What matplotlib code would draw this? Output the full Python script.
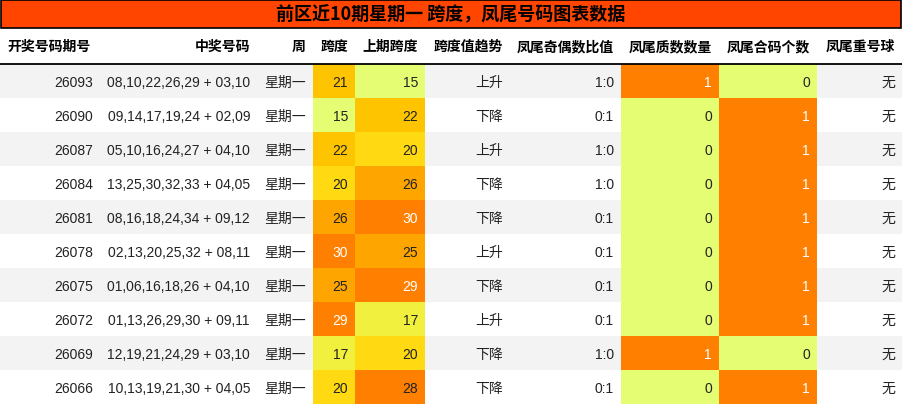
import matplotlib
matplotlib.use("Agg")
import matplotlib.pyplot as plt
from matplotlib.patches import Rectangle

plt.rcParams['font.family'] = ['Liberation Sans', 'Noto Sans CJK SC', 'DejaVu Sans']

title = "前区近10期星期一 跨度，凤尾号码图表数据"
headers = ["开奖号码期号", "中奖号码", "周", "跨度", "上期跨度", "跨度值趋势", "凤尾奇偶数比值", "凤尾质数数量", "凤尾合码个数", "凤尾重号球"]
issues = ["26093", "26090", "26087", "26084", "26081", "26078", "26075", "26072", "26069", "26066"]
numbers = ["08,10,22,26,29 + 03,10", "09,14,17,19,24 + 02,09", "05,10,16,24,27 + 04,10",
           "13,25,30,32,33 + 04,05", "08,16,18,24,34 + 09,12", "02,13,20,25,32 + 08,11",
           "01,06,16,18,26 + 04,10", "01,13,26,29,30 + 09,11", "12,19,21,24,29 + 03,10",
           "10,13,19,21,30 + 04,05"]
weekday = ["星期一"] * 10
span = [21, 15, 22, 20, 26, 30, 25, 29, 17, 20]
prev_span = [15, 22, 20, 26, 30, 25, 29, 17, 20, 28]
trend = ["上升", "下降", "上升", "下降", "下降", "上升", "下降", "上升", "下降", "下降"]
odd_even = ["1:0", "0:1", "1:0", "1:0", "0:1", "0:1", "0:1", "0:1", "1:0", "0:1"]
prime_cnt = [1, 0, 0, 0, 0, 0, 0, 0, 1, 0]
composite_cnt = [0, 1, 1, 1, 1, 1, 1, 1, 0, 1]
repeat = ["无"] * 10

def span_color(v):
    if v <= 15: return "#e4fd73"
    if v <= 17: return "#f2f03e"
    if v <= 20: return "#ffd912"
    if v <= 22: return "#ffc400"
    if v <= 26: return "#ffa500"
    return "#ff8000"

def bin_color(v):
    return "#ff8000" if v >= 1 else "#e4fd73"

W, H = 902, 406
fig = plt.figure(figsize=(W/100, H/100), dpi=100)
ax = fig.add_axes([0, 0, 1, 1])
ax.set_xlim(0, W); ax.set_ylim(H, 0); ax.axis('off')

edges = [0, 100, 257, 313, 355, 425, 510, 621, 719, 817, 902]
pad = 7
fs = 10

ax.add_patch(Rectangle((1, 1), W-2, 28, facecolor="#ff4500", edgecolor="black", lw=1.2))
ax.text(W/2, 15, title, ha="center", va="center", fontsize=13, fontweight="bold",
        family=['Noto Sans CJK SC', 'DejaVu Sans'])

hy = 47
for i, h in enumerate(headers):
    if i == 0:
        ax.text(edges[0]+pad, hy, h, ha="left", va="center", fontsize=fs, fontweight="bold")
    else:
        ax.text(edges[i+1]-pad, hy, h, ha="right", va="center", fontsize=fs, fontweight="bold")
ax.plot([0, W], [64.5, 64.5], color="black", lw=1.3)

top, rh = 65, 34
for r in range(len(issues)):
    y0 = top + r*rh
    yc = y0 + rh/2
    if r % 2 == 0:
        ax.add_patch(Rectangle((0, y0), W, rh, facecolor="#f3f3f3", edgecolor="none"))
    fills = {3: span_color(span[r]), 4: span_color(prev_span[r]),
             7: bin_color(prime_cnt[r]), 8: bin_color(composite_cnt[r])}
    for c, col in fills.items():
        ax.add_patch(Rectangle((edges[c], y0), edges[c+1]-edges[c], rh, facecolor=col, edgecolor="none"))
    vals = [issues[r], numbers[r], weekday[r], str(span[r]), str(prev_span[r]), trend[r],
            odd_even[r], str(prime_cnt[r]), str(composite_cnt[r]), repeat[r]]
    nums = [None, None, None, span[r], prev_span[r], None, None, None, None, None]
    for c, v in enumerate(vals):
        color = "#222222"
        if c in (3, 4) and nums[c] >= 29:
            color = "white"
        if c == 7 and prime_cnt[r] >= 1: color = "white"
        if c == 8 and composite_cnt[r] >= 1: color = "white"
        ax.text(edges[c+1]-pad, yc+1, v, ha="right", va="center", fontsize=fs, color=color)

fig.savefig("out.png", dpi=100)
